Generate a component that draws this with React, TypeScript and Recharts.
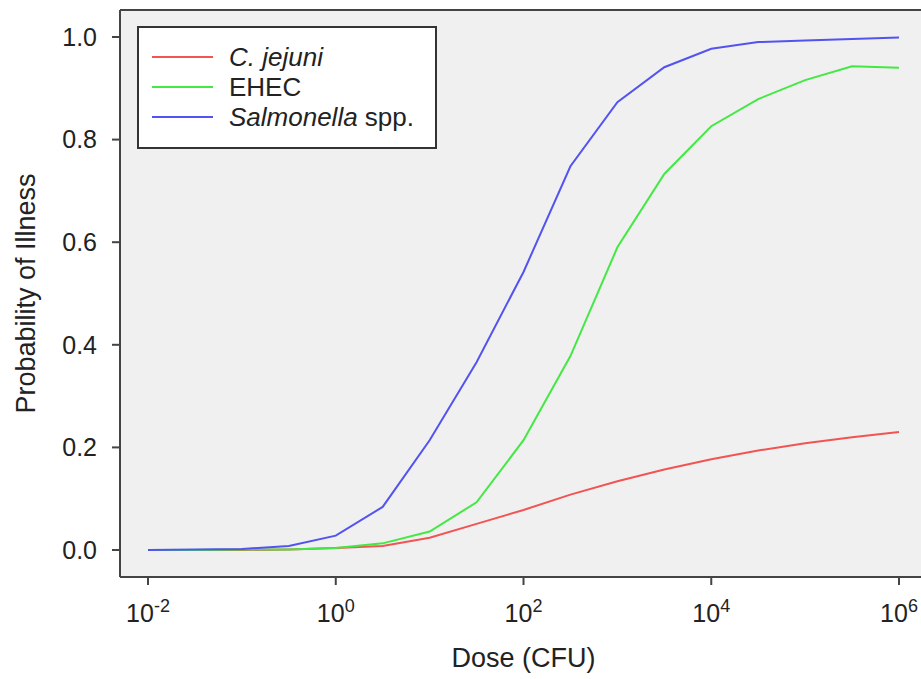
import React from 'react'
import { LineChart, Line, XAxis, YAxis, CartesianGrid, Legend, ReferenceLine, Label } from 'recharts'

// doses at half-log steps (CFU)
const doses = [0.01, 0.0316, 0.1, 0.316, 1, 3.16, 10, 31.6, 100, 316, 1000, 3160, 10000, 31600, 100000, 316000, 1000000]
const cJejuni = [0, 0, 0, 0.001, 0.004, 0.008, 0.024, 0.051, 0.078, 0.108, 0.134, 0.157, 0.177, 0.194, 0.208, 0.22, 0.23]
const ehec = [0, 0, 0.001, 0.001, 0.004, 0.013, 0.036, 0.093, 0.214, 0.378, 0.59, 0.733, 0.826, 0.879, 0.916, 0.943, 0.94]
const salmonella = [0, 0.001, 0.002, 0.008, 0.028, 0.084, 0.214, 0.366, 0.542, 0.748, 0.873, 0.941, 0.977, 0.99, 0.993, 0.996, 0.999]

const xTicks = [0.01, 1, 100, 10000, 1000000]
const yTicks = [0, 0.2, 0.4, 0.6, 0.8, 1.0]

const FONT = '"Liberation Sans", Arial, Helvetica, sans-serif'
const AXIS = '#444'
const TEXT = '#222'
const COLORS = { red: '#f25353', green: '#44e844', blue: '#5353f0' }

// R-style padded domains
const X_DOMAIN = [0.00503, 1715000]
const Y_MIN = -0.0526
const Y_MAX = 1.0526

const data = doses.map((d, i) => ({
    dose: d,
    cj: cJejuni[i],
    ehec: ehec[i],
    sal: salmonella[i],
}))

const LogTick = ({ x, y, payload }: any) => {
    const exp = Math.round(Math.log10(payload.value))
    return (
        <text x={x} y={y + 35} textAnchor="middle" fontSize={25} fill={TEXT} fontFamily={FONT}>
            10<tspan dy={-10} fontSize={18}>{exp}</tspan>
        </text>
    )
}

const YTitle = ({ viewBox }: any) => {
    const cx = viewBox.x + 26
    const cy = viewBox.y + viewBox.height / 2
    return (
        <text x={cx} y={cy} transform={`rotate(-90, ${cx}, ${cy})`} textAnchor="middle" dominantBaseline="central"
            fontSize={27} fill={TEXT} fontFamily={FONT}>
            Probability of Illness
        </text>
    )
}

const legendLabel = (name: string) => {
    if (name === 'C. jejuni') return <i>C. jejuni</i>
    if (name === 'Salmonella spp.') return <><i>Salmonella</i> spp.</>
    return name
}

const renderLegend = ({ payload }: any) => (
    <div style={{
        width: 300, height: 123, boxSizing: 'border-box', border: '2px solid #333', background: '#fff',
        paddingTop: 14, fontFamily: FONT, fontSize: 26, color: TEXT, lineHeight: '30px',
    }}>
        {(payload || []).map((p: any) => (
            <div key={p.value} style={{ height: 30, display: 'flex', alignItems: 'center' }}>
                <span style={{ display: 'inline-block', width: 61, height: 2, background: p.color, marginLeft: 13, marginRight: 16 }} />
                <span>{legendLabel(p.value)}</span>
            </div>
        ))}
    </div>
)

export default function App() {
    return (
        <div style={{ position: 'absolute', left: 0, top: 0, width: 921, height: 679, overflow: 'hidden', background: '#fff', fontFamily: FONT }}>
            <LineChart width={921} height={679} data={data} margin={{ top: 10, right: 0, left: 0, bottom: 0 }}>
                <CartesianGrid horizontal={false} vertical={false} fill="#f0f0f0" />
                <XAxis
                    dataKey="dose"
                    type="number"
                    scale="log"
                    domain={X_DOMAIN}
                    allowDataOverflow
                    ticks={xTicks}
                    tick={<LogTick />}
                    height={102}
                    axisLine={{ stroke: AXIS, strokeWidth: 2 }}
                    tickLine={{ stroke: AXIS, strokeWidth: 2 }}
                    tickSize={8}
                    tickMargin={2}
                    interval={0}
                >
                    <Label value="Dose (CFU)" position="insideBottom" offset={12} dx={3} fontSize={27} fill={TEXT} fontFamily={FONT} />
                </XAxis>
                <YAxis
                    type="number"
                    domain={[Y_MIN, Y_MAX]}
                    allowDataOverflow
                    ticks={yTicks}
                    tickFormatter={(v: number) => v.toFixed(1)}
                    width={120}
                    tick={{ fontSize: 25, fill: TEXT, fontFamily: FONT }}
                    axisLine={{ stroke: AXIS, strokeWidth: 2 }}
                    tickLine={{ stroke: AXIS, strokeWidth: 2 }}
                    tickSize={8}
                    tickMargin={15}
                    interval={0}
                >
                    <Label content={<YTitle />} />
                </YAxis>
                <ReferenceLine y={Y_MAX} stroke={AXIS} strokeWidth={2} />
                <Legend
                    layout="horizontal"
                    verticalAlign="middle"
                    align="center"
                    content={renderLegend}
                    wrapperStyle={{ left: 137, top: 26, width: 300, height: 123 }}
                />
                <Line type="linear" dataKey="cj" name="C. jejuni" stroke={COLORS.red} strokeWidth={2} dot={false} isAnimationActive={false} />
                <Line type="linear" dataKey="ehec" name="EHEC" stroke={COLORS.green} strokeWidth={2} dot={false} isAnimationActive={false} />
                <Line type="linear" dataKey="sal" name="Salmonella spp." stroke={COLORS.blue} strokeWidth={2} dot={false} isAnimationActive={false} />
            </LineChart>
        </div>
    )
}
